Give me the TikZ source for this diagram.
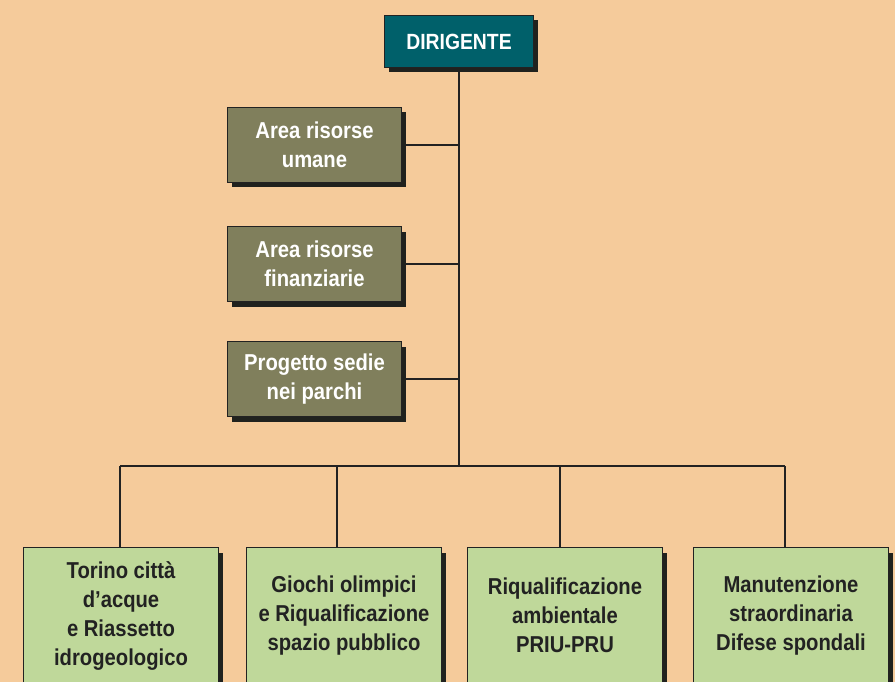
\documentclass[tikz,border=0pt]{standalone}
\usepackage{fontspec}
\setmainfont{Liberation Sans}[FakeStretch=0.88]
\usetikzlibrary{positioning}
\definecolor{peach}{HTML}{F5CB9B}
\definecolor{dirteal}{HTML}{00606A}
\definecolor{staffolive}{HTML}{807F5C}
\definecolor{unitgreen}{HTML}{BFD89A}
\definecolor{shadowc}{HTML}{20221E}
\definecolor{ink}{HTML}{222222}
\pgfdeclarelayer{bg}
\pgfsetlayers{bg,main}

\begin{document}
\begin{tikzpicture}[x=1pt, y=-1pt, font=\bfseries\fontsize{23}{29}\selectfont,
  box/.style={draw=ink, line width=1pt, anchor=north west, align=center, inner sep=0pt,
    preaction={fill=shadowc, transform canvas={shift={(4pt,-5pt)}}}},
  headbox/.style={box, fill=dirteal, text=white, minimum width=149pt, minimum height=52pt, font=\bfseries\fontsize{22}{28}\selectfont},
  staffbox/.style={box, fill=staffolive, text=white, minimum width=174pt, minimum height=75pt},
  unitbox/.style={box, fill=unitgreen, text=ink, minimum width=195pt, minimum height=136pt},
  wire/.style={draw=ink, line width=1.2pt}]
\useasboundingbox (0,0) rectangle (895,682);
\begin{pgfonlayer}{bg}
\fill[peach] (0,0) rectangle (895,682);
\end{pgfonlayer}

\node[headbox] (dir) at (384,15) {DIRIGENTE};

\node[staffbox] (hr) at (227,107) {Area risorse\\umane};
\node[staffbox] (fin) at (227,226) {Area risorse\\finanziarie};
\node[staffbox] (sedi) at (227,341) {Progetto sedie\\nei parchi};

\node[unitbox] (acque) at (23,547) {Torino città\\d’acque\\e Riassetto\\idrogeologico};
\node[unitbox] (giochi) at (246,547) {Giochi olimpici\\e Riqualificazione\\spazio pubblico};
\node[unitbox] (priu) at (467,547) {Riqualificazione\\ambientale\\PRIU-PRU};
\node[unitbox] (sponde) at (693,547) {Manutenzione\\straordinaria\\Difese spondali};

% connectors
\coordinate (bus) at (458,466);
\coordinate (d1) at (120,466);
\coordinate (d2) at (337,466);
\coordinate (d3) at (560,466);
\coordinate (d4) at (785,466);
\begin{pgfonlayer}{bg}
\draw[wire] (dir.south) -- (dir.south |- bus);
\draw[wire] (hr.east) -- (hr.east -| dir.south);
\draw[wire] (fin.east) -- (fin.east -| dir.south);
\draw[wire] (sedi.east) -- (sedi.east -| dir.south);
\draw[wire] (d1) -- (d4);
\draw[wire] (d1) -- (d1 |- acque.north);
\draw[wire] (d2) -- (d2 |- giochi.north);
\draw[wire] (d3) -- (d3 |- priu.north);
\draw[wire] (d4) -- (d4 |- sponde.north);
\end{pgfonlayer}
\end{tikzpicture}
\end{document}
